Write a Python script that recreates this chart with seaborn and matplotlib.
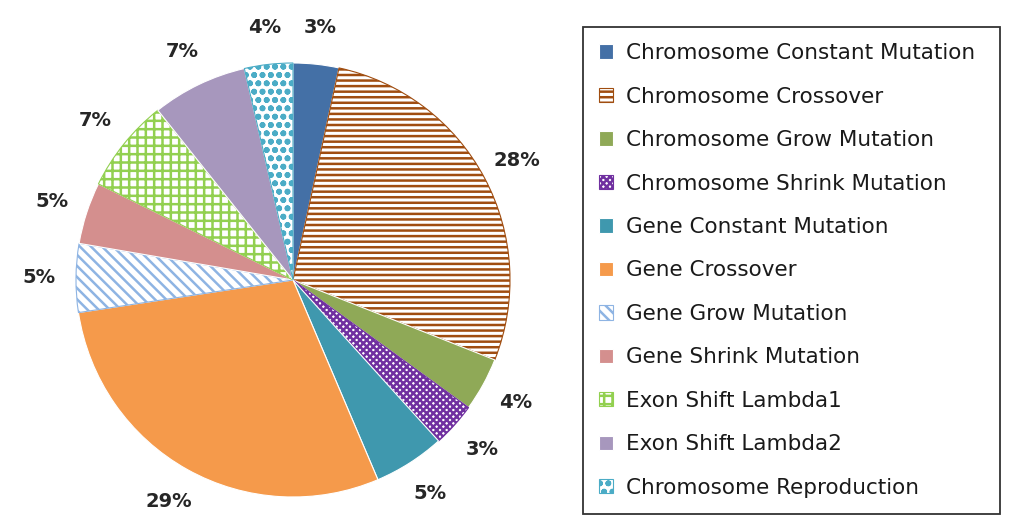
import matplotlib
matplotlib.use("Agg")
import matplotlib.pyplot as plt
import seaborn as sns

# ── data ─────────────────────────────────────
operators = [
    "Chromosome Constant Mutation",
    "Chromosome Crossover",
    "Chromosome Grow Mutation",
    "Chromosome Shrink Mutation",
    "Gene Constant Mutation",
    "Gene Crossover",
    "Gene Grow Mutation",
    "Gene Shrink Mutation",
    "Exon Shift Lambda1",
    "Exon Shift Lambda2",
    "Chromosome Reproduction",
]
shares = [3.4, 27.6, 4.0, 3.3, 5.3, 29.0, 5.1, 4.6, 7.0, 7.1, 3.6]

colors = ["#4470A6", "#A04D10", "#8FA957", "#7030A0", "#3F98AE", "#F59A4B",
          "#8EB4E3", "#D48F8E", "#92D050", "#A797BD", "#4BACC6"]
hatches = [None, "---", None, "xxxxx", None, None, "\\\\\\", None, "++", None, "oo"]

sns.set_theme(style="white")
plt.rcParams["font.family"] = ["DejaVu Sans"]
plt.rcParams["hatch.linewidth"] = 1.8

fig = plt.figure(figsize=(10.24, 5.29), dpi=100)
ax = fig.add_axes([0, 0, 586 / 1024, 1])

wedges, _, pcts = ax.pie(
    shares, colors=colors, startangle=90, counterclock=False,
    autopct="%.0f%%", pctdistance=1.17, radius=1,
    wedgeprops=dict(linewidth=0.8, edgecolor="white"),
    textprops=dict(fontsize=14, fontweight="bold", color="#262626"),
)
for w, c, h in zip(wedges, colors, hatches):
    if h:
        w.set_facecolor("white")
        w.set_edgecolor(c)
        w.set_hatch(h)

ax.set_xlim(-293 / 217, 293 / 217)
ax.set_ylim(-249 / 217, 280 / 217)
ax.set_aspect("auto")
ax.axis("off")

leg = fig.legend(
    wedges, operators, loc="upper left", mode="expand",
    bbox_to_anchor=(583 / 1024, 1 - 27 / 529, 417 / 1024, 0),
    fontsize=15.5, frameon=True, fancybox=False,
    handlelength=0.65, handleheight=0.65, handletextpad=0.6,
    labelspacing=1.09, borderpad=0.75, borderaxespad=0,
)
leg.get_frame().set_edgecolor("black")
leg.get_frame().set_linewidth(1.3)
for t in leg.get_texts():
    t.set_color("#1a1a1a")

fig.savefig("out.png", dpi=100)
